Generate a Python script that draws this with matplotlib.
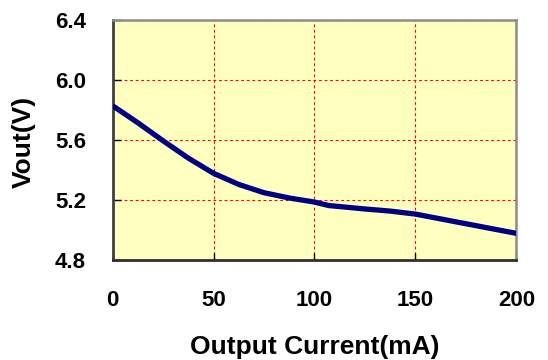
import numpy as np
import matplotlib
matplotlib.use("Agg")
import matplotlib.pyplot as plt

# ── DATA ──────────────────────────────────────────────────────────────────────
current_ma = [0, 12.5, 25, 37.5, 50, 62.5, 75, 87.5, 100, 107, 125, 137.5, 150, 175, 200]
vout_v     = [5.828, 5.715, 5.595, 5.480, 5.379, 5.305, 5.250, 5.215, 5.188, 5.165,
              5.142, 5.128, 5.108, 5.044, 4.980]

x_ticks = [0, 50, 100, 150, 200]
y_ticks = [4.8, 5.2, 5.6, 6.0, 6.4]

NAVY   = "#000080"
YELLOW = "#FFFFC0"
RED    = "#FF0000"

plt.rcParams.update({
    "font.family": ["Liberation Sans", "DejaVu Sans"],
    "font.weight": "bold",
})

# ── FIGURE ────────────────────────────────────────────────────────────────────
fig = plt.figure(figsize=(5.48, 3.6), dpi=100)
ax = fig.add_axes([0.2053, 0.2764, 0.7372, 0.6694])
ax.set_facecolor(YELLOW)

ax.plot(current_ma, vout_v, color=NAVY, lw=3.8, solid_capstyle="butt",
        solid_joinstyle="round", zorder=3)

ax.set_xlim(0, 200)
ax.set_ylim(4.8, 6.4)
ax.set_xticks(x_ticks)
ax.set_yticks(y_ticks)
ax.set_xticklabels([str(v) for v in x_ticks])
ax.set_yticklabels([f"{v:.1f}" for v in y_ticks])

ax.grid(True, color=RED, lw=0.8, ls=(0, (2.5, 2.5)), zorder=1)

ax.tick_params(axis="y", direction="in", length=6, width=1, color="black",
               pad=19, labelsize=16)
ax.tick_params(axis="x", direction="in", length=5, width=1, color="black",
               pad=21, labelsize=16)

for side in ["top", "right"]:
    ax.spines[side].set_color("#8C8C8C")
    ax.spines[side].set_linewidth(1.8)
ax.spines["left"].set_color("#404040")
ax.spines["left"].set_linewidth(2)
ax.spines["bottom"].set_color("#303030")
ax.spines["bottom"].set_linewidth(2)

ax.set_xlabel("Output Current(mA)", fontsize=19, fontweight="bold", va="center")
ax.set_ylabel("Vout(V)", fontsize=19, fontweight="bold", va="center")
ax.xaxis.set_label_coords(0.5, -0.359)
ax.yaxis.set_label_coords(-0.219, 0.494)

fig.savefig("out.png", dpi=100, facecolor="white")
